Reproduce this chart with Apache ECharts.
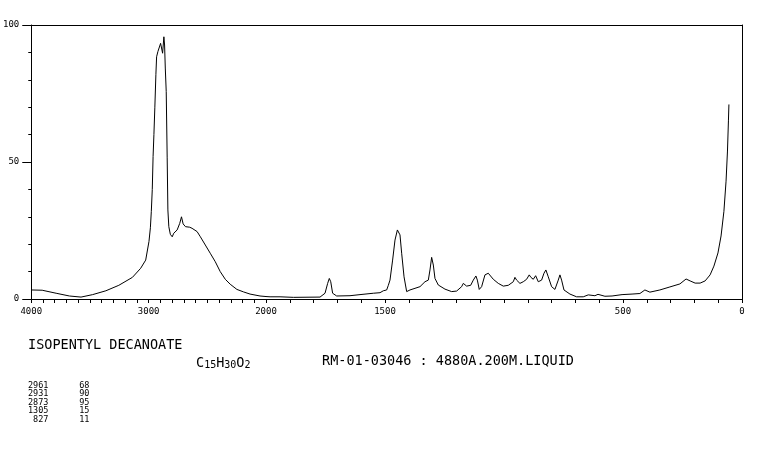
<!DOCTYPE html>
<html>
<head>
<meta charset="utf-8">
<script src="https://cdn.jsdelivr.net/npm/echarts@6/dist/echarts.min.js"></script>
<style>
html,body{margin:0;padding:0;background:#fff;}
#chart{width:765px;height:454px;}
</style>
</head>
<body>
<div id="chart"></div>
<script>
// Raman shift (cm-1) and relative intensity
const wavenumber = [
  4000, 3907, 3788, 3675, 3576, 3477, 3364, 3254, 3138, 3068, 3025, 2997, 2985, 2977, 2969,
  2962, 2955, 2947, 2938, 2932, 2921, 2913, 2898, 2890, 2881, 2870, 2864, 2858, 2850, 2842,
  2836, 2828, 2815, 2799, 2786, 2771, 2757, 2743, 2735, 2720, 2706, 2686, 2672, 2650, 2630,
  2587, 2559, 2517, 2475, 2432, 2390, 2347, 2305, 2248, 2192, 2136, 2051, 2000,
  1983, 1941, 1885, 1773, 1752, 1741, 1734, 1728, 1720, 1703, 1647, 1605, 1549, 1521, 1507,
  1493, 1486, 1479, 1468, 1458, 1448, 1444, 1437, 1430, 1420, 1409, 1395, 1374, 1353, 1332,
  1318, 1311, 1304, 1297, 1290, 1276, 1248, 1220, 1199, 1178, 1171, 1157, 1140, 1129, 1118,
  1112, 1104, 1094, 1080, 1066, 1059, 1045, 1024, 1003, 982, 961, 954, 947, 933, 919,
  905, 894, 887, 877, 867, 856, 842, 832, 824, 814, 800, 786, 772, 765, 758,
  748, 723, 695, 667, 646, 618, 605, 576, 546, 504, 462, 429, 408, 387, 345,
  303, 261, 235, 218, 197, 176, 155, 134, 118, 101, 88, 76, 67, 61, 57, 55
];
const intensity = [
  3.3, 3.2, 2.1, 1.1, 0.7, 1.6, 3.0, 5.0, 7.9, 11.2, 14.2, 21.0, 26, 32, 40,
  52, 60, 70, 82, 88.4, 90.3, 91, 93.3, 92.7, 89.7, 95.7, 92.7, 84.3, 75.7, 51.5,
  32.5, 26.4, 23.6, 22.7, 24, 23.4, 25.2, 25.2, 27.6, 30, 27.4, 26.4, 26.1, 26.2, 25.8,
  24.6, 22.7, 19.7, 16.7, 13.6, 10, 7.2, 5.4, 3.5, 2.6, 1.8, 1.1, 0.9,
  0.8, 0.8, 0.6, 0.7, 2.1, 5.7, 7.5, 6.3, 2.1, 1.1, 1.2, 1.6, 2.1, 2.3, 3.0,
  3.3, 5.0, 6.9, 14.2, 21.5, 25.2, 25.4, 23.4, 16.7, 8.1, 2.7, 3.3, 3.9, 4.5, 6.3,
  6.9, 10.6, 15.2, 12.4, 7.5, 5.1, 3.6, 2.7, 2.9, 4.5, 5.7, 4.7, 5.0, 6.9, 8.4,
  6.9, 3.5, 4.5, 8.8, 9.4, 9.2, 7.2, 5.7, 4.7, 5.0, 6.3, 7.9, 6.9, 5.7, 6.3,
  7.2, 8.8, 7.9, 7.2, 8.5, 6.3, 6.9, 9.4, 10.6, 8.1, 4.5, 3.5, 6.9, 8.8, 6.9,
  3.3, 1.8, 0.8, 0.8, 1.5, 1.2, 1.7, 1.0, 1.1, 1.6, 1.8, 2.0, 3.3, 2.5, 3.3,
  4.4, 5.5, 7.3, 6.6, 5.8, 5.8, 6.6, 8.8, 12, 16.8, 23, 32, 43, 54, 65, 71
];
const leftTicks = [4000, 3000, 2000];
const rightTicks = [1500, 500, 0];
const yTicks = [0, 50, 100];
const titleText = 'ISOPENTYL DECANOATE';
const formulaParts = ['C', '15', 'H', '30', 'O', '2'];
const sourceText = 'RM-01-03046 : 4880A.200M.LIQUID';
const peakShift = [2961, 2931, 2873, 1305, 827];
const peakIntensity = [68, 90, 95, 15, 11];

const pts = wavenumber.map((w, i) => [w, intensity[i]]);
const leftData = pts.filter(p => p[0] >= 2000);
const rightData = pts.filter(p => p[0] <= 2000);

const FONT = 'DejaVu Sans Mono';
const tickFont = {fontFamily: FONT, fontSize: 9, color: '#000'};
const black = {color: '#000', width: 1};

const chart = echarts.init(document.getElementById('chart'), null, {renderer: 'canvas'});

const peakLines = peakShift.map((w, i) =>
  String(w).padStart(4, ' ') + '      ' + String(peakIntensity[i]).padStart(2, ' ')).join('\n');

const formulaRich = formulaParts.map((p, i) => (i % 2 === 0 ? '{m|' : '{s|') + p + '}').join('');

chart.setOption({
  animation: false,
  backgroundColor: '#fff',
  grid: [
    {left: 30, top: 25, width: 236, height: 274, containLabel: false},
    {left: 266, top: 25, width: 476, height: 274, containLabel: false}
  ],
  xAxis: [
    {
      type: 'value', gridIndex: 0, min: 2000, max: 4000, interval: 1000, inverse: true,
      position: 'bottom',
      axisLine: {onZero: false, lineStyle: black},
      axisTick: {show: true, length: 4, lineStyle: black},
      minorTick: {show: true, splitNumber: 10, length: 4, lineStyle: black},
      splitLine: {show: false},
      axisLabel: {show: true, margin: 8, ...tickFont,
        formatter: v => leftTicks.includes(v) ? String(v) : ''}
    },
    {
      type: 'value', gridIndex: 1, min: 0, max: 2000, interval: 500, inverse: true,
      position: 'bottom',
      axisLine: {onZero: false, lineStyle: black},
      axisTick: {show: true, length: 4, lineStyle: black},
      minorTick: {show: true, splitNumber: 5, length: 4, lineStyle: black},
      splitLine: {show: false},
      axisLabel: {show: true, margin: 8, ...tickFont,
        formatter: v => rightTicks.includes(v) ? String(v) : ''}
    },
    {
      type: 'value', gridIndex: 0, min: 2000, max: 4000, inverse: true, position: 'top',
      axisLine: {onZero: false, lineStyle: black},
      axisTick: {show: false}, axisLabel: {show: false}, splitLine: {show: false}
    },
    {
      type: 'value', gridIndex: 1, min: 0, max: 2000, inverse: true, position: 'top',
      axisLine: {onZero: false, lineStyle: black},
      axisTick: {show: false}, axisLabel: {show: false}, splitLine: {show: false}
    }
  ],
  yAxis: [
    {
      type: 'value', gridIndex: 0, min: 0, max: 100, interval: 50, position: 'left',
      axisLine: {show: true, onZero: false, lineStyle: black},
      axisTick: {show: true, length: 9, lineStyle: black},
      minorTick: {show: true, splitNumber: 5, length: 3, lineStyle: black},
      splitLine: {show: false},
      axisLabel: {show: true, margin: 12, ...tickFont,
        formatter: v => yTicks.includes(v) ? String(v) : ''}
    },
    {
      type: 'value', gridIndex: 1, min: 0, max: 100, position: 'right',
      axisLine: {show: true, onZero: false, lineStyle: black},
      axisTick: {show: false}, axisLabel: {show: false}, splitLine: {show: false}
    }
  ],
  series: [
    {
      type: 'line', xAxisIndex: 0, yAxisIndex: 0, data: leftData,
      showSymbol: false, symbol: 'none', silent: true,
      lineStyle: {color: '#000', width: 1}
    },
    {
      type: 'line', xAxisIndex: 1, yAxisIndex: 1, data: rightData,
      showSymbol: false, symbol: 'none', silent: true,
      lineStyle: {color: '#000', width: 1}
    }
  ],
  graphic: [
    {
      type: 'text', left: 28, top: 338,
      style: {text: titleText, font: '13.5px "' + FONT + '"', fill: '#000'}
    },
    {
      type: 'text', left: 196, top: 354,
      style: {
        text: formulaRich, fill: '#000',
        rich: {
          m: {fontFamily: FONT, fontSize: 13.5, color: '#000', verticalAlign: 'bottom', lineHeight: 14},
          s: {fontFamily: FONT, fontSize: 10, color: '#000', verticalAlign: 'bottom', lineHeight: 14, padding: [6, 0, 0, 0]}
        }
      }
    },
    {
      type: 'text', left: 28, top: 354,
      style: {text: '', fill: '#000'}
    },
    {
      type: 'text', left: 322, top: 354,
      style: {text: sourceText, font: '13.5px "' + FONT + '"', fill: '#000'}
    },
    {
      type: 'text', left: 28, top: 381,
      style: {text: peakLines, font: '8.5px "' + FONT + '"', fill: '#000', lineHeight: 8.5}
    }
  ]
});
</script>
</body>
</html>
